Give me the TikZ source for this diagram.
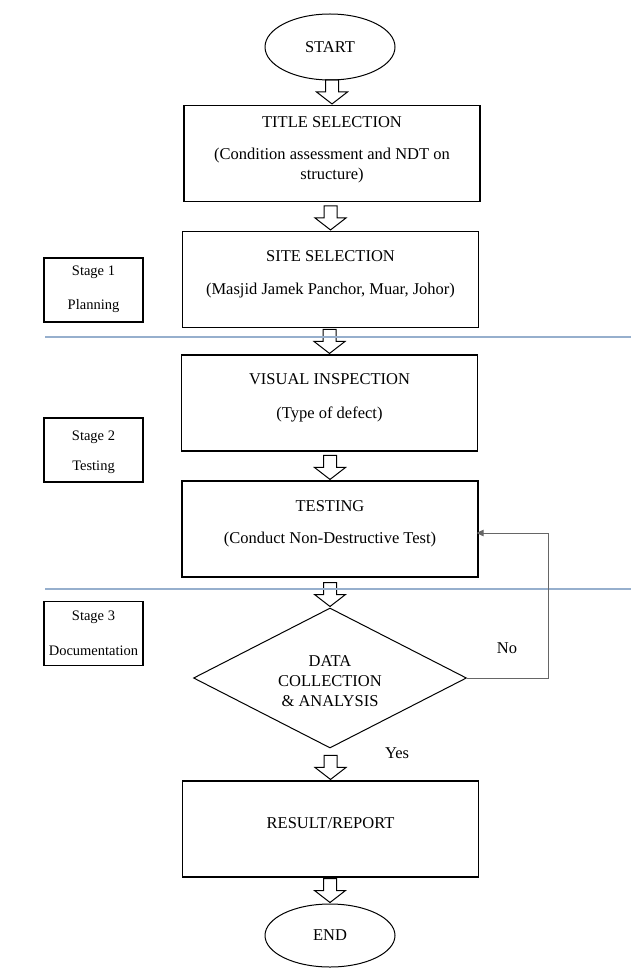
\documentclass[tikz,border=0pt]{standalone}
\usepackage{fontspec}
\setmainfont{Liberation Serif}
\usetikzlibrary{shapes.geometric,arrows.meta,calc}

% hollow block arrow pointing down onto the top of the second node
\newcommand\blockarrow[2]{%
  \draw[hollow] let \p1=(#1.south), \p2=(#2.north) in
    ({\x2-6.5pt},{\y2+25pt}) -- ({\x2-6.5pt},{\y2+13pt}) --
    ({\x2-15.5pt},{\y2+13pt}) -- ({\x2},{\y2+1pt}) --
    ({\x2+15.5pt},{\y2+13pt}) -- ({\x2+6.5pt},{\y2+13pt}) --
    ({\x2+6.5pt},{\y2+25pt}) -- cycle;}

\begin{document}
\begin{tikzpicture}[x=1pt,y=-1pt,
  every node/.style={font=\fontsize{16.5}{20}\selectfont},
  procbox/.style={draw, line width=1.1pt, minimum width=296pt, minimum height=96pt, inner sep=0pt},
  boxtext/.style={align=center, inner sep=0pt},
  stagebox/.style={draw, line width=1.1pt, minimum width=99pt, minimum height=64pt, inner sep=0pt},
  stagetext/.style={align=center, inner sep=0pt, font=\fontsize{14.5}{17}\selectfont},
  terminal/.style={ellipse, draw, line width=1pt, minimum width=130pt, minimum height=66pt, inner sep=0pt},
  decision/.style={diamond, draw, line width=1pt, minimum width=273pt, minimum height=140pt, inner sep=0pt},
  hollow/.style={draw, line width=1pt, line join=miter},
  sepline/.style={draw=sepblue, line width=1.1pt},
  feedback/.style={draw=black!60, line width=0.9pt, -{Triangle[length=7pt,width=6.5pt]}, shorten >=-2pt},
  tag/.style={inner sep=0pt}
]
\definecolor{sepblue}{RGB}{150,175,205}
\useasboundingbox (0,0) rectangle (631,968);

% main flow
\node[terminal] (start) at (330,47) {START};
\node[procbox] (title) at (332,153.5) {};
\node[boxtext] (titletxt) at (332,150) {TITLE SELECTION\\[12pt](Condition assessment and NDT on\\structure)};
\node[procbox] (site) at (330.5,279.5) {};
\node[boxtext] (sitetxt) at (330.5,274.5) {SITE SELECTION\\[13pt](Masjid Jamek Panchor, Muar, Johor)};
\node[procbox] (visual) at (329.5,403) {};
\node[boxtext] (visualtxt) at (329.5,398) {VISUAL INSPECTION\\[14pt](Type of defect)};
\node[procbox] (testing) at (330,529) {};
\node[boxtext] (testingtxt) at (330,524) {TESTING\\[12pt](Conduct Non-Destructive Test)};
\node[decision] (data) at (330,678) {};
\node[boxtext] (datatxt) at (330,681.5) {DATA\\COLLECTION\\\& ANALYSIS};
\node[procbox] (result) at (330.5,829) {};
\node[boxtext] (resulttxt) at (330.5,823) {RESULT/REPORT};
\node[terminal, minimum height=63pt] (end) at (330,935.5) {END};

% stage labels
\node[stagebox] (stage1) at (93.5,290) {};
\node[stagetext] (stage1txt) at (93.5,289) {Stage 1\\[17pt]Planning};
\node[stagebox] (stage2) at (93.5,450) {};
\node[stagetext] (stage2txt) at (93.5,452) {Stage 2\\[13pt]Testing};
\node[stagebox] (stage3) at (93.5,633.5) {};
\node[stagetext] (stage3txt) at (93.5,633.5) {Stage 3\\[18pt]Documentation};

% block arrows
\blockarrow{start}{title}
\blockarrow{title}{site}
\blockarrow{site}{visual}
\blockarrow{visual}{testing}
\blockarrow{testing}{data}
\blockarrow{data}{result}
\blockarrow{result}{end}

% stage separators
\draw[sepline] (45,337) -- (631,337);
\draw[sepline] (45,589) -- (631,589);

% loop back when the data is not sufficient
\coordinate (loop) at (548,533);
\draw[feedback] (data.east) -| (loop) -- (testing.east |- loop);
\node[tag] (no) at (507,648) {No};
\node[tag] (yes) at (397,753) {Yes};
\end{tikzpicture}
\end{document}
